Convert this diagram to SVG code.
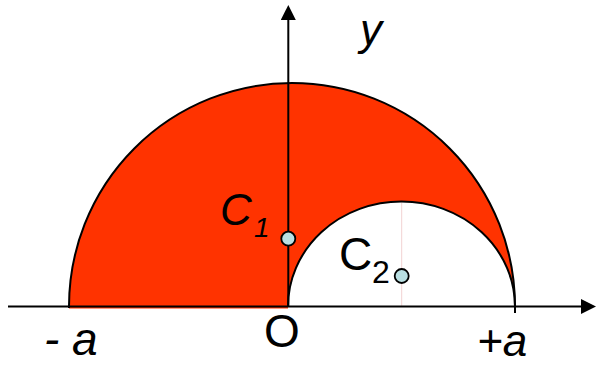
<svg xmlns="http://www.w3.org/2000/svg" width="596" height="365" viewBox="0 0 596 365">
<style>
.lbl{font-family:"Liberation Sans",Arial,sans-serif;fill:#000}
.it{font-style:italic}
.arc{fill:none;stroke:#000;stroke-width:2}
.axis{stroke:#000;stroke-width:2;fill:none}
.dot{fill:#b9dfe2;stroke:#000;stroke-width:1.8}
</style>
<defs>
<marker id="arrow" viewBox="0 0 15 15" refX="0" refY="7.5" markerWidth="15" markerHeight="15" markerUnits="userSpaceOnUse" orient="auto">
<path d="M0,0 L15,7.5 L0,15 Z" fill="#000"/>
</marker>
</defs>
<g id="region">
<path d="M69,308.5 L69,306.5 A223,223.5 0 0 1 515,306.5 A113.5,105 0 0 0 288,306.5 L288,308.5 Z" fill="#ff3300"/>
<line x1="401.7" y1="202" x2="401.7" y2="306" stroke="#f2d2d2" stroke-width="1"/>
<path class="arc" d="M69,308 L69,306.5 A223,223.5 0 0 1 515,306.5 L515,313"/>
<path class="arc" d="M288,306.5 A113.5,105 0 0 1 515,306.5"/>
</g>
<g id="connectors">
<line class="axis" x1="8" y1="306.5" x2="581" y2="306.5" marker-end="url(#arrow)"/>
<line class="axis" x1="288.3" y1="306.5" x2="288.3" y2="20" marker-end="url(#arrow)"/>
</g>
<g id="c1">
<circle class="dot" cx="288.3" cy="238.7" r="7"/>
<text class="lbl it" x="220" y="225" font-size="44">C</text>
<text class="lbl it" x="254" y="237" font-size="28">1</text>
</g>
<g id="c2">
<circle class="dot" cx="401.7" cy="276" r="7"/>
<text class="lbl" x="339" y="270" font-size="46">C</text>
<text class="lbl" x="372" y="283" font-size="32">2</text>
</g>
<text class="lbl it" x="360" y="45" font-size="44">y</text>
<text class="lbl it" x="44" y="355" font-size="46">- a</text>
<text class="lbl" x="264" y="347" font-size="46">O</text>
<text class="lbl it" x="477" y="356" font-size="44">+a</text>
</svg>
